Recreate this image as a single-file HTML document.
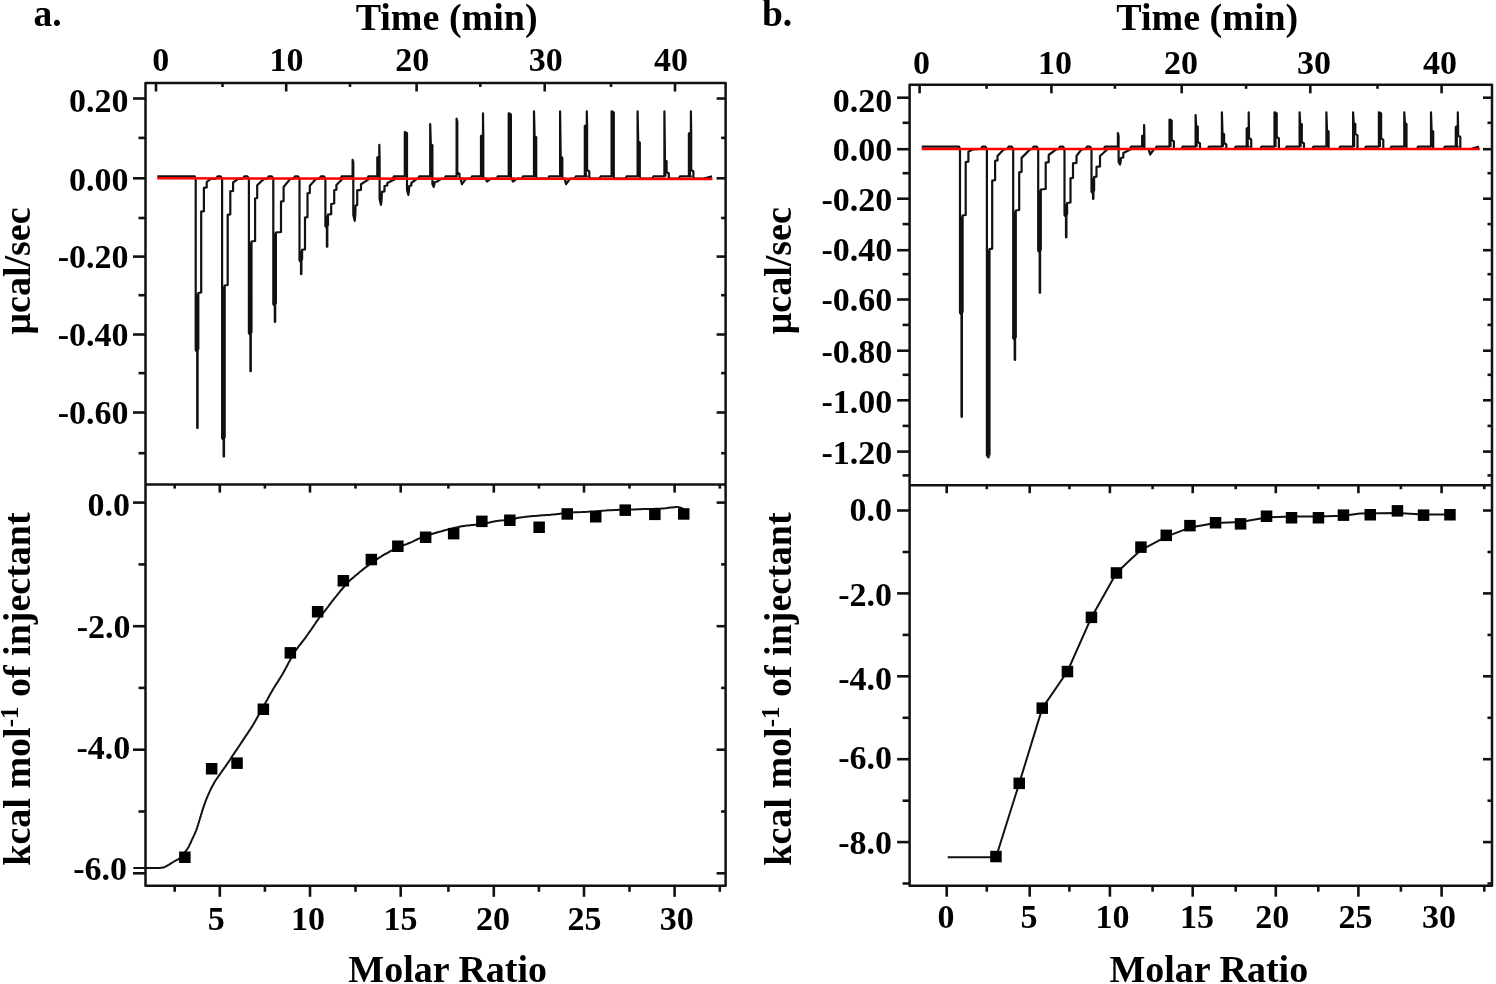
<!DOCTYPE html>
<html><head><meta charset="utf-8"><style>
html,body{margin:0;padding:0;background:#fff;}
svg{display:block;will-change:transform;}
text{font-family:"Liberation Serif",serif;font-weight:bold;fill:#000;}
</style></head><body>
<svg width="1496" height="984" viewBox="0 0 1496 984">
<rect width="1496" height="984" fill="#fff"/>
<path d="M145.5,83 H725.6 V885.8 H145.5 Z M145.5,484.6 H725.6" fill="none" stroke="#111" stroke-width="2.5" stroke-linejoin="round"/>
<line x1="133" y1="98.5" x2="145.5" y2="98.5" stroke="#111" stroke-width="2.6"/>
<line x1="725.6" y1="98.5" x2="716.6" y2="98.5" stroke="#111" stroke-width="2.6"/>
<line x1="133" y1="178.3" x2="145.5" y2="178.3" stroke="#111" stroke-width="2.6"/>
<line x1="725.6" y1="178.3" x2="716.6" y2="178.3" stroke="#111" stroke-width="2.6"/>
<line x1="133" y1="256.6" x2="145.5" y2="256.6" stroke="#111" stroke-width="2.6"/>
<line x1="725.6" y1="256.6" x2="716.6" y2="256.6" stroke="#111" stroke-width="2.6"/>
<line x1="133" y1="334.5" x2="145.5" y2="334.5" stroke="#111" stroke-width="2.6"/>
<line x1="725.6" y1="334.5" x2="716.6" y2="334.5" stroke="#111" stroke-width="2.6"/>
<line x1="133" y1="412.5" x2="145.5" y2="412.5" stroke="#111" stroke-width="2.6"/>
<line x1="725.6" y1="412.5" x2="716.6" y2="412.5" stroke="#111" stroke-width="2.6"/>
<line x1="138.5" y1="137.9" x2="145.5" y2="137.9" stroke="#111" stroke-width="2.6"/>
<line x1="725.6" y1="137.9" x2="721.1" y2="137.9" stroke="#111" stroke-width="2.6"/>
<line x1="138.5" y1="218" x2="145.5" y2="218" stroke="#111" stroke-width="2.6"/>
<line x1="725.6" y1="218" x2="721.1" y2="218" stroke="#111" stroke-width="2.6"/>
<line x1="138.5" y1="295.2" x2="145.5" y2="295.2" stroke="#111" stroke-width="2.6"/>
<line x1="725.6" y1="295.2" x2="721.1" y2="295.2" stroke="#111" stroke-width="2.6"/>
<line x1="138.5" y1="373.1" x2="145.5" y2="373.1" stroke="#111" stroke-width="2.6"/>
<line x1="725.6" y1="373.1" x2="721.1" y2="373.1" stroke="#111" stroke-width="2.6"/>
<line x1="138.5" y1="453.2" x2="145.5" y2="453.2" stroke="#111" stroke-width="2.6"/>
<line x1="725.6" y1="453.2" x2="721.1" y2="453.2" stroke="#111" stroke-width="2.6"/>
<line x1="156" y1="83" x2="156" y2="91.5" stroke="#111" stroke-width="2.6"/>
<line x1="286.2" y1="83" x2="286.2" y2="91.5" stroke="#111" stroke-width="2.6"/>
<line x1="416.6" y1="83" x2="416.6" y2="91.5" stroke="#111" stroke-width="2.6"/>
<line x1="544.7" y1="83" x2="544.7" y2="91.5" stroke="#111" stroke-width="2.6"/>
<line x1="675" y1="83" x2="675" y2="91.5" stroke="#111" stroke-width="2.6"/>
<line x1="222.5" y1="83" x2="222.5" y2="87" stroke="#111" stroke-width="2.6"/>
<line x1="350" y1="83" x2="350" y2="87" stroke="#111" stroke-width="2.6"/>
<line x1="480.3" y1="83" x2="480.3" y2="87" stroke="#111" stroke-width="2.6"/>
<line x1="611" y1="83" x2="611" y2="87" stroke="#111" stroke-width="2.6"/>
<line x1="133" y1="502.6" x2="145.5" y2="502.6" stroke="#111" stroke-width="2.6"/>
<line x1="725.6" y1="502.6" x2="716.6" y2="502.6" stroke="#111" stroke-width="2.6"/>
<line x1="133" y1="626.2" x2="145.5" y2="626.2" stroke="#111" stroke-width="2.6"/>
<line x1="725.6" y1="626.2" x2="716.6" y2="626.2" stroke="#111" stroke-width="2.6"/>
<line x1="133" y1="749.7" x2="145.5" y2="749.7" stroke="#111" stroke-width="2.6"/>
<line x1="725.6" y1="749.7" x2="716.6" y2="749.7" stroke="#111" stroke-width="2.6"/>
<line x1="133" y1="873.3" x2="145.5" y2="873.3" stroke="#111" stroke-width="2.6"/>
<line x1="725.6" y1="873.3" x2="716.6" y2="873.3" stroke="#111" stroke-width="2.6"/>
<line x1="138.5" y1="564.4" x2="145.5" y2="564.4" stroke="#111" stroke-width="2.6"/>
<line x1="725.6" y1="564.4" x2="721.1" y2="564.4" stroke="#111" stroke-width="2.6"/>
<line x1="138.5" y1="687.9" x2="145.5" y2="687.9" stroke="#111" stroke-width="2.6"/>
<line x1="725.6" y1="687.9" x2="721.1" y2="687.9" stroke="#111" stroke-width="2.6"/>
<line x1="138.5" y1="811.5" x2="145.5" y2="811.5" stroke="#111" stroke-width="2.6"/>
<line x1="725.6" y1="811.5" x2="721.1" y2="811.5" stroke="#111" stroke-width="2.6"/>
<line x1="219.8" y1="484.6" x2="219.8" y2="492.6" stroke="#111" stroke-width="2.6"/>
<line x1="310" y1="484.6" x2="310" y2="492.6" stroke="#111" stroke-width="2.6"/>
<line x1="400.7" y1="484.6" x2="400.7" y2="492.6" stroke="#111" stroke-width="2.6"/>
<line x1="493.8" y1="484.6" x2="493.8" y2="492.6" stroke="#111" stroke-width="2.6"/>
<line x1="584" y1="484.6" x2="584" y2="492.6" stroke="#111" stroke-width="2.6"/>
<line x1="674.6" y1="484.6" x2="674.6" y2="492.6" stroke="#111" stroke-width="2.6"/>
<line x1="174.7" y1="484.6" x2="174.7" y2="488.6" stroke="#111" stroke-width="2.6"/>
<line x1="264.9" y1="484.6" x2="264.9" y2="488.6" stroke="#111" stroke-width="2.6"/>
<line x1="355.5" y1="484.6" x2="355.5" y2="488.6" stroke="#111" stroke-width="2.6"/>
<line x1="448.4" y1="484.6" x2="448.4" y2="488.6" stroke="#111" stroke-width="2.6"/>
<line x1="538.9" y1="484.6" x2="538.9" y2="488.6" stroke="#111" stroke-width="2.6"/>
<line x1="629.5" y1="484.6" x2="629.5" y2="488.6" stroke="#111" stroke-width="2.6"/>
<line x1="719.8" y1="484.6" x2="719.8" y2="488.6" stroke="#111" stroke-width="2.6"/>
<line x1="219.8" y1="885.8" x2="219.8" y2="896.8" stroke="#111" stroke-width="2.6"/>
<line x1="310" y1="885.8" x2="310" y2="896.8" stroke="#111" stroke-width="2.6"/>
<line x1="400.7" y1="885.8" x2="400.7" y2="896.8" stroke="#111" stroke-width="2.6"/>
<line x1="493.8" y1="885.8" x2="493.8" y2="896.8" stroke="#111" stroke-width="2.6"/>
<line x1="584" y1="885.8" x2="584" y2="896.8" stroke="#111" stroke-width="2.6"/>
<line x1="674.6" y1="885.8" x2="674.6" y2="896.8" stroke="#111" stroke-width="2.6"/>
<line x1="174.7" y1="885.8" x2="174.7" y2="891.8" stroke="#111" stroke-width="2.6"/>
<line x1="264.9" y1="885.8" x2="264.9" y2="891.8" stroke="#111" stroke-width="2.6"/>
<line x1="355.5" y1="885.8" x2="355.5" y2="891.8" stroke="#111" stroke-width="2.6"/>
<line x1="448.4" y1="885.8" x2="448.4" y2="891.8" stroke="#111" stroke-width="2.6"/>
<line x1="538.9" y1="885.8" x2="538.9" y2="891.8" stroke="#111" stroke-width="2.6"/>
<line x1="629.5" y1="885.8" x2="629.5" y2="891.8" stroke="#111" stroke-width="2.6"/>
<line x1="719.8" y1="885.8" x2="719.8" y2="891.8" stroke="#111" stroke-width="2.6"/>
<path d="M909.6,84.8 H1492 V885.7 H909.6 Z M909.6,485.2 H1492" fill="none" stroke="#111" stroke-width="2.5" stroke-linejoin="round"/>
<line x1="897.1" y1="97.7" x2="909.6" y2="97.7" stroke="#111" stroke-width="2.6"/>
<line x1="1492" y1="97.7" x2="1483" y2="97.7" stroke="#111" stroke-width="2.6"/>
<line x1="897.1" y1="149.2" x2="909.6" y2="149.2" stroke="#111" stroke-width="2.6"/>
<line x1="1492" y1="149.2" x2="1483" y2="149.2" stroke="#111" stroke-width="2.6"/>
<line x1="897.1" y1="198.7" x2="909.6" y2="198.7" stroke="#111" stroke-width="2.6"/>
<line x1="1492" y1="198.7" x2="1483" y2="198.7" stroke="#111" stroke-width="2.6"/>
<line x1="897.1" y1="250.2" x2="909.6" y2="250.2" stroke="#111" stroke-width="2.6"/>
<line x1="1492" y1="250.2" x2="1483" y2="250.2" stroke="#111" stroke-width="2.6"/>
<line x1="897.1" y1="299.5" x2="909.6" y2="299.5" stroke="#111" stroke-width="2.6"/>
<line x1="1492" y1="299.5" x2="1483" y2="299.5" stroke="#111" stroke-width="2.6"/>
<line x1="897.1" y1="350.7" x2="909.6" y2="350.7" stroke="#111" stroke-width="2.6"/>
<line x1="1492" y1="350.7" x2="1483" y2="350.7" stroke="#111" stroke-width="2.6"/>
<line x1="897.1" y1="400.3" x2="909.6" y2="400.3" stroke="#111" stroke-width="2.6"/>
<line x1="1492" y1="400.3" x2="1483" y2="400.3" stroke="#111" stroke-width="2.6"/>
<line x1="897.1" y1="451.6" x2="909.6" y2="451.6" stroke="#111" stroke-width="2.6"/>
<line x1="1492" y1="451.6" x2="1483" y2="451.6" stroke="#111" stroke-width="2.6"/>
<line x1="902.6" y1="122.8" x2="909.6" y2="122.8" stroke="#111" stroke-width="2.6"/>
<line x1="1492" y1="122.8" x2="1487.5" y2="122.8" stroke="#111" stroke-width="2.6"/>
<line x1="902.6" y1="173.2" x2="909.6" y2="173.2" stroke="#111" stroke-width="2.6"/>
<line x1="1492" y1="173.2" x2="1487.5" y2="173.2" stroke="#111" stroke-width="2.6"/>
<line x1="902.6" y1="224.1" x2="909.6" y2="224.1" stroke="#111" stroke-width="2.6"/>
<line x1="1492" y1="224.1" x2="1487.5" y2="224.1" stroke="#111" stroke-width="2.6"/>
<line x1="902.6" y1="274.2" x2="909.6" y2="274.2" stroke="#111" stroke-width="2.6"/>
<line x1="1492" y1="274.2" x2="1487.5" y2="274.2" stroke="#111" stroke-width="2.6"/>
<line x1="902.6" y1="324.9" x2="909.6" y2="324.9" stroke="#111" stroke-width="2.6"/>
<line x1="1492" y1="324.9" x2="1487.5" y2="324.9" stroke="#111" stroke-width="2.6"/>
<line x1="902.6" y1="374.8" x2="909.6" y2="374.8" stroke="#111" stroke-width="2.6"/>
<line x1="1492" y1="374.8" x2="1487.5" y2="374.8" stroke="#111" stroke-width="2.6"/>
<line x1="902.6" y1="425.9" x2="909.6" y2="425.9" stroke="#111" stroke-width="2.6"/>
<line x1="1492" y1="425.9" x2="1487.5" y2="425.9" stroke="#111" stroke-width="2.6"/>
<line x1="902.6" y1="475.4" x2="909.6" y2="475.4" stroke="#111" stroke-width="2.6"/>
<line x1="1492" y1="475.4" x2="1487.5" y2="475.4" stroke="#111" stroke-width="2.6"/>
<line x1="919.6" y1="84.8" x2="919.6" y2="93.3" stroke="#111" stroke-width="2.6"/>
<line x1="1051.4" y1="84.8" x2="1051.4" y2="93.3" stroke="#111" stroke-width="2.6"/>
<line x1="1181.7" y1="84.8" x2="1181.7" y2="93.3" stroke="#111" stroke-width="2.6"/>
<line x1="1310.3" y1="84.8" x2="1310.3" y2="93.3" stroke="#111" stroke-width="2.6"/>
<line x1="1441.6" y1="84.8" x2="1441.6" y2="93.3" stroke="#111" stroke-width="2.6"/>
<line x1="986.6" y1="84.8" x2="986.6" y2="88.8" stroke="#111" stroke-width="2.6"/>
<line x1="1114.9" y1="84.8" x2="1114.9" y2="88.8" stroke="#111" stroke-width="2.6"/>
<line x1="1246.1" y1="84.8" x2="1246.1" y2="88.8" stroke="#111" stroke-width="2.6"/>
<line x1="1377.5" y1="84.8" x2="1377.5" y2="88.8" stroke="#111" stroke-width="2.6"/>
<line x1="897.1" y1="510.5" x2="909.6" y2="510.5" stroke="#111" stroke-width="2.6"/>
<line x1="1492" y1="510.5" x2="1483" y2="510.5" stroke="#111" stroke-width="2.6"/>
<line x1="897.1" y1="593.4" x2="909.6" y2="593.4" stroke="#111" stroke-width="2.6"/>
<line x1="1492" y1="593.4" x2="1483" y2="593.4" stroke="#111" stroke-width="2.6"/>
<line x1="897.1" y1="676.3" x2="909.6" y2="676.3" stroke="#111" stroke-width="2.6"/>
<line x1="1492" y1="676.3" x2="1483" y2="676.3" stroke="#111" stroke-width="2.6"/>
<line x1="897.1" y1="759.2" x2="909.6" y2="759.2" stroke="#111" stroke-width="2.6"/>
<line x1="1492" y1="759.2" x2="1483" y2="759.2" stroke="#111" stroke-width="2.6"/>
<line x1="897.1" y1="842.1" x2="909.6" y2="842.1" stroke="#111" stroke-width="2.6"/>
<line x1="1492" y1="842.1" x2="1483" y2="842.1" stroke="#111" stroke-width="2.6"/>
<line x1="902.6" y1="552" x2="909.6" y2="552" stroke="#111" stroke-width="2.6"/>
<line x1="1492" y1="552" x2="1487.5" y2="552" stroke="#111" stroke-width="2.6"/>
<line x1="902.6" y1="634.9" x2="909.6" y2="634.9" stroke="#111" stroke-width="2.6"/>
<line x1="1492" y1="634.9" x2="1487.5" y2="634.9" stroke="#111" stroke-width="2.6"/>
<line x1="902.6" y1="717.8" x2="909.6" y2="717.8" stroke="#111" stroke-width="2.6"/>
<line x1="1492" y1="717.8" x2="1487.5" y2="717.8" stroke="#111" stroke-width="2.6"/>
<line x1="902.6" y1="800.7" x2="909.6" y2="800.7" stroke="#111" stroke-width="2.6"/>
<line x1="1492" y1="800.7" x2="1487.5" y2="800.7" stroke="#111" stroke-width="2.6"/>
<line x1="902.6" y1="883.5" x2="909.6" y2="883.5" stroke="#111" stroke-width="2.6"/>
<line x1="1492" y1="883.5" x2="1487.5" y2="883.5" stroke="#111" stroke-width="2.6"/>
<line x1="946.7" y1="485.2" x2="946.7" y2="493.2" stroke="#111" stroke-width="2.6"/>
<line x1="1029.7" y1="485.2" x2="1029.7" y2="493.2" stroke="#111" stroke-width="2.6"/>
<line x1="1109.9" y1="485.2" x2="1109.9" y2="493.2" stroke="#111" stroke-width="2.6"/>
<line x1="1192.7" y1="485.2" x2="1192.7" y2="493.2" stroke="#111" stroke-width="2.6"/>
<line x1="1275.8" y1="485.2" x2="1275.8" y2="493.2" stroke="#111" stroke-width="2.6"/>
<line x1="1358.4" y1="485.2" x2="1358.4" y2="493.2" stroke="#111" stroke-width="2.6"/>
<line x1="1441.6" y1="485.2" x2="1441.6" y2="493.2" stroke="#111" stroke-width="2.6"/>
<line x1="986.8" y1="485.2" x2="986.8" y2="489.2" stroke="#111" stroke-width="2.6"/>
<line x1="1069.4" y1="485.2" x2="1069.4" y2="489.2" stroke="#111" stroke-width="2.6"/>
<line x1="1152.6" y1="485.2" x2="1152.6" y2="489.2" stroke="#111" stroke-width="2.6"/>
<line x1="1235.7" y1="485.2" x2="1235.7" y2="489.2" stroke="#111" stroke-width="2.6"/>
<line x1="1318.3" y1="485.2" x2="1318.3" y2="489.2" stroke="#111" stroke-width="2.6"/>
<line x1="1400.9" y1="485.2" x2="1400.9" y2="489.2" stroke="#111" stroke-width="2.6"/>
<line x1="1484.3" y1="485.2" x2="1484.3" y2="489.2" stroke="#111" stroke-width="2.6"/>
<line x1="946.7" y1="885.7" x2="946.7" y2="896.7" stroke="#111" stroke-width="2.6"/>
<line x1="1029.7" y1="885.7" x2="1029.7" y2="896.7" stroke="#111" stroke-width="2.6"/>
<line x1="1109.9" y1="885.7" x2="1109.9" y2="896.7" stroke="#111" stroke-width="2.6"/>
<line x1="1192.7" y1="885.7" x2="1192.7" y2="896.7" stroke="#111" stroke-width="2.6"/>
<line x1="1275.8" y1="885.7" x2="1275.8" y2="896.7" stroke="#111" stroke-width="2.6"/>
<line x1="1358.4" y1="885.7" x2="1358.4" y2="896.7" stroke="#111" stroke-width="2.6"/>
<line x1="1441.6" y1="885.7" x2="1441.6" y2="896.7" stroke="#111" stroke-width="2.6"/>
<line x1="986.8" y1="885.7" x2="986.8" y2="891.7" stroke="#111" stroke-width="2.6"/>
<line x1="1069.4" y1="885.7" x2="1069.4" y2="891.7" stroke="#111" stroke-width="2.6"/>
<line x1="1152.6" y1="885.7" x2="1152.6" y2="891.7" stroke="#111" stroke-width="2.6"/>
<line x1="1235.7" y1="885.7" x2="1235.7" y2="891.7" stroke="#111" stroke-width="2.6"/>
<line x1="1318.3" y1="885.7" x2="1318.3" y2="891.7" stroke="#111" stroke-width="2.6"/>
<line x1="1400.9" y1="885.7" x2="1400.9" y2="891.7" stroke="#111" stroke-width="2.6"/>
<line x1="1484.3" y1="885.7" x2="1484.3" y2="891.7" stroke="#111" stroke-width="2.6"/>
<polyline points="157.3,176.4 194.7,176.4 195.7,178.6 195.7,350 197.2,352 197.2,428 197.6,428 197.6,350 198.3,349 198.3,293 201.2,292.5 201.2,211.7 203.9,211.2 203.9,187.9 206.7,187.4 206.7,182 210.7,178.9 216.1,178.6 217.6,176.4 220.6,176.4 222.1,178.6 222.1,438 223.6,440 223.6,456.5 224,456.5 224,438 224.7,437 224.7,285.5 227.7,285 227.7,214.8 230.3,214.3 230.3,191.4 233.1,190.9 233.1,182.5 238.1,178.9 242.9,178.6 244.4,176.4 247.4,176.4 248.9,178.6 248.9,333 250.4,335 250.4,371.2 250.8,371.2 250.8,333 251.5,332 251.5,241.5 255.1,241 255.1,198.5 257.2,198 257.2,185.3 263.9,178.9 267.3,178.6 268.8,176.4 271.8,176.4 273.3,178.6 273.3,304 274.8,306 274.8,321.8 275.2,321.8 275.2,304 275.9,303 275.9,232.5 281,232 281,201.6 283.6,201.1 283.6,187 290.3,178.9 293.5,178.6 295,176.4 298,176.4 299.5,178.6 299.5,260.4 301,262.4 301,274.1 301.4,274.1 301.4,260.4 302.1,259.4 302.1,249.8 305,249.3 305,217.7 307.5,217.2 307.5,193.4 309.8,192.9 309.8,185.7 315.9,178.9 319.4,178.6 320.9,176.4 323.9,176.4 325.4,178.6 325.4,226.1 326.9,228.1 326.9,246.7 327.3,246.7 327.3,226.1 328,225.1 328,214.7 331.2,214.2 331.2,204 334.2,203.5 334.2,190.3 336.4,189.8 336.4,185 342.4,178.9 340.6,178.6 341.6,176.4 352.6,176.4 352.6,159.8 353.3,162.8 353.3,178.6 353.3,215 354.7,220.8 355.3,215 355.6,205.5 357.2,205 357.2,190.3 361,189.8 361,184.2 369.3,178.9 367.3,178.6 368.3,176.4 379.3,176.4 377.3,176.4 377.3,157.5 379.3,156.5 379.3,144.8 379.6,157.5 379.6,178.6 379.6,199.5 381,204.8 381.6,199.5 381.9,191.8 384.5,191.3 384.5,186 387.3,185.5 387.3,183 395.3,178.9 392.8,178.6 393.8,176.4 404.8,176.4 404.8,132.1 405.4,132.1 407,133.1 407,178.6 407,190 408.4,194.9 409,190 409.3,186 411.3,185.5 411.3,183 416.8,178.9 418.2,178.6 419.2,176.4 430.2,176.4 430.2,124.1 430.8,144.1 432.4,145.1 432.4,178.6 432.4,184 433.8,186.9 434.4,184 434.7,182 437.7,181.5 437.7,181 441.2,178.9 444.6,178.6 445.6,176.4 456.6,176.4 456.6,118.7 457.3,121.7 457.3,172.5 459.5,174 459.5,178.6 461.8,178.6 464.3,178.6 460.5,178.6 462,184.2 466,178.6 469.6,178.6 471,178.6 472,176.4 483,176.4 481,176.4 481,136.1 483,135.1 483,113.4 483.3,136.1 483.3,178.6 486.3,178.6 485.5,178.6 487,181.6 491,178.6 496,178.6 496.7,178.6 497.7,176.4 508.7,176.4 508.7,113.4 509.3,113.4 510.9,114.4 510.9,178.6 513.9,178.6 511.5,178.6 513,181.6 517,178.6 521.7,178.6 522,178.6 523,176.4 534,176.4 534,111.4 534.6,136.1 536.2,137.1 536.2,178.6 539.2,178.6 547,178.6 548.1,178.6 549.1,176.4 560.1,176.4 560.1,111.4 560.7,156.8 562.3,157.8 562.3,178.6 565.3,178.6 564.6,178.6 566.1,184.2 570.1,178.6 573.1,178.6 574.8,178.6 575.8,176.4 586.8,176.4 584.8,176.4 584.8,126.1 586.8,125.1 586.8,111.4 587.1,126.1 587.1,170 589.3,171.5 589.3,178.6 591.6,178.6 594.1,178.6 599.8,178.6 599.6,178.6 600.6,176.4 611.6,176.4 611.6,111.4 612.2,111.4 613.8,112.4 613.8,178.6 616.8,178.6 624.6,178.6 625.6,178.6 626.6,176.4 637.6,176.4 637.6,111.4 638.2,141.4 639.8,142.4 639.8,178.6 642.8,178.6 650.6,178.6 652.4,178.6 653.4,176.4 664.4,176.4 664.4,111.4 665,160.2 666.6,161.2 666.6,172 668.8,173.5 668.8,178.6 671.1,178.6 673.6,178.6 677.4,178.6 678.9,178.6 679.9,176.4 690.9,176.4 688.9,176.4 688.9,133.4 690.9,132.4 690.9,111.4 691.2,133.4 691.2,170 693.4,171.5 693.4,178.6 695.7,178.6 698.2,178.6 703.9,178.6 712,176.4" fill="none" stroke="#111" stroke-width="2.2" stroke-linejoin="round"/>
<line x1="197" y1="294" x2="197" y2="349" stroke="#111" stroke-width="2.0"/>
<line x1="223.4" y1="286.5" x2="223.4" y2="437" stroke="#111" stroke-width="2.0"/>
<line x1="250.2" y1="242.5" x2="250.2" y2="332" stroke="#111" stroke-width="2.0"/>
<line x1="274.6" y1="233.5" x2="274.6" y2="303" stroke="#111" stroke-width="2.0"/>
<line x1="300.8" y1="250.8" x2="300.8" y2="259.4" stroke="#111" stroke-width="2.0"/>
<line x1="326.7" y1="215.7" x2="326.7" y2="225.1" stroke="#111" stroke-width="2.0"/>
<line x1="378.4" y1="158.5" x2="378.4" y2="176.6" stroke="#111" stroke-width="2.0"/>
<line x1="405.9" y1="133.1" x2="405.9" y2="176.6" stroke="#111" stroke-width="2.0"/>
<line x1="431.3" y1="145.1" x2="431.3" y2="176.6" stroke="#111" stroke-width="2.0"/>
<line x1="482.1" y1="137.1" x2="482.1" y2="176.6" stroke="#111" stroke-width="2.0"/>
<line x1="509.8" y1="114.4" x2="509.8" y2="176.6" stroke="#111" stroke-width="2.0"/>
<line x1="535.1" y1="137.1" x2="535.1" y2="176.6" stroke="#111" stroke-width="2.0"/>
<line x1="561.2" y1="157.8" x2="561.2" y2="176.6" stroke="#111" stroke-width="2.0"/>
<line x1="585.9" y1="127.1" x2="585.9" y2="176.6" stroke="#111" stroke-width="2.0"/>
<line x1="612.7" y1="112.4" x2="612.7" y2="176.6" stroke="#111" stroke-width="2.0"/>
<line x1="638.7" y1="142.4" x2="638.7" y2="176.6" stroke="#111" stroke-width="2.0"/>
<line x1="665.5" y1="161.2" x2="665.5" y2="176.6" stroke="#111" stroke-width="2.0"/>
<line x1="690" y1="134.4" x2="690" y2="176.6" stroke="#111" stroke-width="2.0"/>
<line x1="157.3" y1="178.3" x2="712.5" y2="178.9" stroke="#f00" stroke-width="2.5"/>
<polyline points="921.7,146.6 959,146.6 960,149 960,312.8 961.5,314.8 961.5,416.8 961.9,416.8 961.9,312.8 962.6,311.8 962.6,215.5 965.7,215 965.7,162.1 968.4,161.6 968.4,151.8 973,149.3 980.9,149 982.4,146.6 985.4,146.6 986.9,149 986.9,455.4 988.4,457.4 988.4,457.1 988.8,457.1 988.8,455.4 989.5,454.4 989.5,249.1 992.2,248.6 992.2,180.7 995.1,180.2 995.1,160.9 997.5,160.4 997.5,156 1003.9,149.3 1007.2,149 1008.7,146.6 1011.7,146.6 1013.2,149 1013.2,338 1014.7,340 1014.7,359.8 1015.1,359.8 1015.1,338 1015.8,337 1015.8,210.5 1019.2,210 1019.2,172.3 1021.6,171.8 1021.6,157.9 1030.2,149.3 1032.2,149 1033.7,146.6 1036.7,146.6 1038.2,149 1038.2,250.7 1039.7,252.7 1039.7,292.7 1040.1,292.7 1040.1,250.7 1040.8,249.7 1040.8,189.5 1045.7,189 1045.7,162.7 1048.7,162.2 1048.7,155 1056.2,149.3 1058.5,149 1060,146.6 1063,146.6 1064.5,149 1064.5,215 1066,217 1066,237.3 1066.4,237.3 1066.4,215 1067.1,214 1067.1,203 1070.5,202.5 1070.5,178.3 1073,177.8 1073,163.3 1076.5,162.8 1076.5,156 1081.5,149.3 1085.5,149 1087,146.6 1090,146.6 1091.5,149 1091.5,191.6 1093,193.6 1093,198.8 1093.4,198.8 1093.4,191.6 1094.1,190.6 1094.1,177.1 1096.5,176.6 1096.5,166.9 1100,166.4 1100,156 1107.5,149.3 1103.9,149 1104.9,146.6 1117.9,146.6 1117.9,133.1 1118.6,136.1 1118.6,149 1118.6,162 1120,164.5 1120.6,162 1120.9,158 1123.3,157.5 1123.3,153 1130.9,149.3 1130.1,149 1131.1,146.6 1144.1,146.6 1142.1,146.6 1142.1,136 1144.1,135 1144.1,125.1 1144.4,136 1144.4,149 1147.4,149 1148.6,149 1150.1,154.5 1154.1,149 1157.1,149 1155.5,149 1156.5,146.6 1169.5,146.6 1169.5,119.7 1170.1,119.7 1171.7,120.7 1171.7,140 1173.9,141.5 1173.9,149 1176.2,149 1178.7,149 1182.5,149 1181.6,149 1182.6,146.6 1195.6,146.6 1195.6,115 1196.2,125.7 1197.8,126.7 1197.8,142 1200,143.5 1200,149 1202.3,149 1204.8,149 1208.6,149 1207.9,149 1208.9,146.6 1221.9,146.6 1221.9,112.4 1222.5,133.1 1224.1,134.1 1224.1,143 1226.3,144.5 1226.3,149 1228.6,149 1231.1,149 1234.9,149 1234.7,149 1235.7,146.6 1248.7,146.6 1246.7,146.6 1246.7,128.4 1248.7,127.4 1248.7,112.4 1249,128.4 1249,138 1251.2,139.5 1251.2,149 1253.5,149 1256,149 1261.7,149 1260.5,149 1261.5,146.6 1274.5,146.6 1274.5,112.4 1275.1,112.4 1276.7,113.4 1276.7,137 1278.9,138.5 1278.9,149 1281.2,149 1283.7,149 1287.5,149 1285.6,149 1286.6,146.6 1299.6,146.6 1299.6,112.4 1300.2,123.1 1301.8,124.1 1301.8,142 1304,143.5 1304,149 1306.3,149 1308.8,149 1312.6,149 1312.4,149 1313.4,146.6 1326.4,146.6 1326.4,112.4 1327,130.4 1328.6,131.4 1328.6,149 1331.6,149 1339.4,149 1339.1,149 1340.1,146.6 1353.1,146.6 1353.1,112.4 1353.7,123 1355.3,124 1355.3,133.8 1357.5,135.3 1357.5,149 1359.8,149 1362.3,149 1366.1,149 1364.9,149 1365.9,146.6 1378.9,146.6 1378.9,112.4 1379.5,112.4 1381.1,113.4 1381.1,138.4 1383.3,139.9 1383.3,149 1385.6,149 1388.1,149 1391.9,149 1390.3,149 1391.3,146.6 1404.3,146.6 1404.3,112.4 1404.9,123 1406.5,124 1406.5,149 1409.5,149 1417.3,149 1417,149 1418,146.6 1431,146.6 1431,112.4 1431.6,130.4 1433.2,131.4 1433.2,149 1436.2,149 1444,149 1443.8,149 1444.8,146.6 1457.8,146.6 1455.8,146.6 1455.8,127 1457.8,126 1457.8,112.4 1458.1,127 1458.1,135.5 1460.3,137 1460.3,149 1462.6,149 1465.1,149 1470.8,149 1479,146.6" fill="none" stroke="#111" stroke-width="2.2" stroke-linejoin="round"/>
<line x1="961.3" y1="216.5" x2="961.3" y2="311.8" stroke="#111" stroke-width="2.0"/>
<line x1="988.2" y1="250.1" x2="988.2" y2="454.4" stroke="#111" stroke-width="2.0"/>
<line x1="1014.5" y1="211.5" x2="1014.5" y2="337" stroke="#111" stroke-width="2.0"/>
<line x1="1039.5" y1="190.5" x2="1039.5" y2="249.7" stroke="#111" stroke-width="2.0"/>
<line x1="1065.8" y1="204" x2="1065.8" y2="214" stroke="#111" stroke-width="2.0"/>
<line x1="1092.8" y1="178.1" x2="1092.8" y2="190.6" stroke="#111" stroke-width="2.0"/>
<line x1="1143.2" y1="137" x2="1143.2" y2="147" stroke="#111" stroke-width="2.0"/>
<line x1="1170.6" y1="120.7" x2="1170.6" y2="147" stroke="#111" stroke-width="2.0"/>
<line x1="1196.7" y1="126.7" x2="1196.7" y2="147" stroke="#111" stroke-width="2.0"/>
<line x1="1223" y1="134.1" x2="1223" y2="147" stroke="#111" stroke-width="2.0"/>
<line x1="1247.8" y1="129.4" x2="1247.8" y2="147" stroke="#111" stroke-width="2.0"/>
<line x1="1275.6" y1="113.4" x2="1275.6" y2="147" stroke="#111" stroke-width="2.0"/>
<line x1="1300.7" y1="124.1" x2="1300.7" y2="147" stroke="#111" stroke-width="2.0"/>
<line x1="1327.5" y1="131.4" x2="1327.5" y2="147" stroke="#111" stroke-width="2.0"/>
<line x1="1354.2" y1="124" x2="1354.2" y2="147" stroke="#111" stroke-width="2.0"/>
<line x1="1380" y1="113.4" x2="1380" y2="147" stroke="#111" stroke-width="2.0"/>
<line x1="1405.4" y1="124" x2="1405.4" y2="147" stroke="#111" stroke-width="2.0"/>
<line x1="1432.1" y1="131.4" x2="1432.1" y2="147" stroke="#111" stroke-width="2.0"/>
<line x1="1456.9" y1="128" x2="1456.9" y2="147" stroke="#111" stroke-width="2.0"/>
<line x1="921.7" y1="149.1" x2="1479.8" y2="148.9" stroke="#f00" stroke-width="2.5"/>
<polyline points="133.3,867.9 134.6,867.9 136.4,867.9 138.5,867.9 140.9,868 143.3,868 145.8,868 148,868 150,868 151.8,868 153.5,868 155.1,868 156.7,868 158.1,868 159.5,867.9 160.8,867.8 162,867.7 163,867.5 163.9,867.3 164.7,867 165.4,866.7 166,866.3 166.6,866 167.3,865.6 168,865.2 168.8,864.8 169.5,864.4 170.2,863.9 171,863.4 171.8,862.9 172.5,862.5 173.2,862 174,861.5 174.7,861.1 175.5,860.7 176.2,860.3 176.9,860 177.6,859.6 178.4,859.1 179.2,858.5 180,857.8 180.9,856.9 181.8,855.9 182.8,854.8 183.8,853.7 184.8,852.4 185.7,851.2 186.6,850 187.4,848.8 188.1,847.7 188.8,846.5 189.4,845.4 189.9,844.2 190.5,843 191,841.8 191.5,840.6 192.1,839.4 192.7,838.1 193.3,836.9 193.9,835.6 194.5,834.3 195.1,832.9 195.6,831.6 196.2,830.3 196.7,828.9 197.2,827.5 197.6,826.1 198.1,824.8 198.5,823.3 198.9,821.9 199.3,820.5 199.8,819.1 200.2,817.6 200.7,816.1 201.1,814.6 201.6,813.1 202,811.6 202.5,810.1 203,808.6 203.5,807.1 204,805.6 204.5,804.1 205.1,802.7 205.6,801.2 206.2,799.7 206.7,798.3 207.3,796.8 208,795.4 208.6,793.9 209.3,792.4 210,790.9 210.7,789.4 211.5,787.8 212.3,786.3 213,784.9 213.8,783.5 214.5,782.2 215.2,781 215.9,780 216.5,779 217.2,778.1 217.8,777.2 218.5,776.2 219.3,775.2 220.1,774 221,772.7 222,771.2 223.1,769.7 224.2,768.1 225.3,766.6 226.4,765 227.4,763.6 228.3,762.3 229.1,761.2 229.7,760.2 230.3,759.3 230.8,758.4 231.4,757.6 232,756.6 232.7,755.5 233.5,754.3 234.5,752.9 235.5,751.3 236.7,749.6 237.9,747.8 239.1,746 240.3,744.2 241.5,742.4 242.7,740.6 243.9,738.9 245,737.1 246.2,735.3 247.4,733.6 248.6,731.8 249.7,730.1 250.8,728.5 251.8,726.9 252.7,725.4 253.5,724.1 254.3,722.8 255,721.5 255.7,720.3 256.4,719 257.2,717.6 258,716.2 258.9,714.7 259.8,713 260.7,711.4 261.7,709.7 262.6,708 263.6,706.2 264.5,704.5 265.5,702.8 266.4,701.1 267.4,699.4 268.3,697.7 269.2,696 270.2,694.2 271.2,692.5 272.2,690.8 273.2,689 274.3,687.2 275.4,685.4 276.6,683.6 277.8,681.8 278.9,679.9 280.1,678.1 281.2,676.3 282.3,674.5 283.3,672.7 284.3,670.9 285.3,669.1 286.3,667.2 287.2,665.5 288.1,663.7 289,662.1 289.9,660.5 290.7,659 291.5,657.6 292.2,656.3 292.9,655.1 293.7,653.8 294.4,652.6 295.2,651.3 296.1,650 297.1,648.6 298.1,647.2 299.2,645.7 300.4,644.3 301.5,642.8 302.6,641.4 303.6,640.1 304.6,638.8 305.5,637.6 306.3,636.5 307,635.5 307.7,634.5 308.4,633.5 309.1,632.4 309.9,631.4 310.7,630.2 311.6,629 312.5,627.6 313.4,626.2 314.3,624.9 315.3,623.5 316.2,622.1 317.1,620.8 318,619.6 318.8,618.5 319.6,617.5 320.3,616.5 321,615.6 321.8,614.7 322.5,613.8 323.3,612.8 324.1,611.8 325,610.7 325.8,609.6 326.7,608.4 327.7,607.2 328.6,606 329.5,604.7 330.5,603.5 331.5,602.2 332.5,600.9 333.5,599.6 334.6,598.2 335.7,596.9 336.8,595.5 337.8,594.1 338.9,592.8 340,591.5 341,590.2 342.1,589 343.1,587.8 344.1,586.6 345.1,585.4 346.2,584.2 347.3,583 348.5,581.8 349.8,580.6 351.1,579.3 352.6,578.1 354,576.9 355.4,575.6 356.9,574.5 358.2,573.4 359.5,572.3 360.7,571.3 361.8,570.4 362.8,569.6 363.8,568.8 364.8,568 365.8,567.2 366.9,566.4 368,565.6 369.2,564.7 370.4,563.8 371.6,562.9 372.8,562 374.1,561.2 375.3,560.3 376.6,559.4 377.8,558.6 379,557.8 380.2,557.1 381.4,556.4 382.6,555.6 383.7,554.9 385,554.2 386.3,553.5 387.6,552.8 389,552 390.5,551.2 392.1,550.4 393.7,549.6 395.3,548.8 396.8,548.1 398.4,547.4 399.8,546.7 401.2,546.1 402.5,545.6 403.7,545.1 404.9,544.7 406.2,544.3 407.4,543.8 408.7,543.3 410,542.8 411.4,542.2 412.7,541.6 414.1,540.9 415.5,540.2 416.9,539.5 418.3,538.8 419.8,538.1 421.4,537.5 423,536.9 424.7,536.3 426.5,535.7 428.3,535.1 430.1,534.6 431.9,534 433.6,533.5 435.3,533 436.9,532.5 438.5,532 440.1,531.6 441.6,531.2 443.2,530.7 444.8,530.3 446.4,529.9 448,529.5 449.7,529.1 451.4,528.6 453.2,528.2 455,527.8 456.8,527.4 458.5,527 460.3,526.6 462,526.3 463.7,526 465.4,525.8 467.1,525.6 468.7,525.5 470.3,525.3 471.9,525.1 473.5,525 475,524.8 476.4,524.6 477.8,524.4 479.1,524.2 480.4,524 481.7,523.8 482.9,523.6 484.3,523.4 485.6,523.2 487,522.9 488.4,522.7 489.7,522.4 491.2,522.1 492.6,521.8 494,521.5 495.5,521.2 497,521 498.6,520.8 500.2,520.6 501.8,520.4 503.5,520.3 505.1,520.1 506.8,519.9 508.4,519.7 510,519.5 511.5,519.2 512.9,519 514.3,518.7 515.7,518.4 517.1,518.1 518.6,517.8 520.2,517.5 522,517.2 524,517 526.1,516.7 528.4,516.5 530.8,516.3 533.1,516.1 535.5,515.9 537.8,515.7 540,515.5 542.1,515.3 544.3,515.2 546.4,515 548.4,514.9 550.4,514.8 552.4,514.6 554.2,514.5 556,514.3 557.5,514.1 558.9,513.9 560,513.7 561.1,513.5 562.3,513.4 563.7,513.2 565.2,513 567.2,512.8 569.5,512.6 572.2,512.5 575.1,512.3 578.1,512.2 581.3,512.1 584.5,511.9 587.6,511.8 590.6,511.6 593.5,511.4 596.5,511.2 599.4,511 602.3,510.8 605.2,510.6 608.1,510.3 611.1,510.2 614,510 616.9,509.9 619.9,509.8 622.8,509.7 625.7,509.6 628.6,509.5 631.5,509.5 634.5,509.4 637.4,509.3 640.4,509.2 643.5,509.1 646.6,509.1 649.7,509 652.7,508.9 655.6,508.8 658.3,508.7 660.8,508.6 663.1,508.4 665.2,508.3 667.1,508.1 668.9,507.8 670.6,507.6 672.1,507.4 673.5,507.3 674.8,507.2 675.9,507.1 676.7,507.1 677.4,507.1 678,507.1 678.5,507.2 679,507.3 679.5,507.4 680,507.5 680.6,507.7 681.2,507.9 681.8,508.2 682.4,508.5 683,508.8 683.5,509.1 683.9,509.3 684.2,509.5" fill="none" stroke="#111" stroke-width="2.0" stroke-linejoin="round"/>
<rect x="179.1" y="851.5" width="11.5" height="11.5" fill="#000"/>
<rect x="205.9" y="763" width="11.5" height="11.5" fill="#000"/>
<rect x="231.3" y="757.4" width="11.5" height="11.5" fill="#000"/>
<rect x="257.6" y="703.5" width="11.5" height="11.5" fill="#000"/>
<rect x="284.6" y="647.1" width="11.5" height="11.5" fill="#000"/>
<rect x="311.9" y="606" width="11.5" height="11.5" fill="#000"/>
<rect x="337.6" y="575" width="11.5" height="11.5" fill="#000"/>
<rect x="365.6" y="553.8" width="11.5" height="11.5" fill="#000"/>
<rect x="392.1" y="540.5" width="11.5" height="11.5" fill="#000"/>
<rect x="419.9" y="531.5" width="11.5" height="11.5" fill="#000"/>
<rect x="447.9" y="527.9" width="11.5" height="11.5" fill="#000"/>
<rect x="476.1" y="515.6" width="11.5" height="11.5" fill="#000"/>
<rect x="504.1" y="514.5" width="11.5" height="11.5" fill="#000"/>
<rect x="533.4" y="521.5" width="11.5" height="11.5" fill="#000"/>
<rect x="561.5" y="508.2" width="11.5" height="11.5" fill="#000"/>
<rect x="590" y="511" width="11.5" height="11.5" fill="#000"/>
<rect x="619.5" y="504.4" width="11.5" height="11.5" fill="#000"/>
<rect x="649.1" y="508.6" width="11.5" height="11.5" fill="#000"/>
<rect x="678" y="508.2" width="11.5" height="11.5" fill="#000"/>
<polyline points="947.7,857.3 996,857.3 1019.2,783.4 1042.3,708.1 1067.4,671.5 1091.4,617.4 1116.4,573 1130,560 1141,550.1 1166.2,536.6 1190,527.6 1215.6,523.1 1240.6,521.9 1266.5,517.5 1291.5,516.5 1318.4,516.5 1343.4,515.8 1360,513.4 1397.4,512.9 1423.6,514.6 1450,514.6" fill="none" stroke="#111" stroke-width="2.0" stroke-linejoin="round"/>
<rect x="990.2" y="850.8" width="11.5" height="11.5" fill="#000"/>
<rect x="1013.5" y="777.6" width="11.5" height="11.5" fill="#000"/>
<rect x="1036.5" y="702.4" width="11.5" height="11.5" fill="#000"/>
<rect x="1061.7" y="665.8" width="11.5" height="11.5" fill="#000"/>
<rect x="1085.7" y="611.6" width="11.5" height="11.5" fill="#000"/>
<rect x="1110.7" y="567.2" width="11.5" height="11.5" fill="#000"/>
<rect x="1135.2" y="541.4" width="11.5" height="11.5" fill="#000"/>
<rect x="1160.5" y="529.6" width="11.5" height="11.5" fill="#000"/>
<rect x="1184.2" y="519.9" width="11.5" height="11.5" fill="#000"/>
<rect x="1209.8" y="517" width="11.5" height="11.5" fill="#000"/>
<rect x="1234.8" y="518.1" width="11.5" height="11.5" fill="#000"/>
<rect x="1260.8" y="510.5" width="11.5" height="11.5" fill="#000"/>
<rect x="1285.8" y="512" width="11.5" height="11.5" fill="#000"/>
<rect x="1312.7" y="512" width="11.5" height="11.5" fill="#000"/>
<rect x="1337.7" y="509.4" width="11.5" height="11.5" fill="#000"/>
<rect x="1364.5" y="509" width="11.5" height="11.5" fill="#000"/>
<rect x="1391.7" y="505.1" width="11.5" height="11.5" fill="#000"/>
<rect x="1417.8" y="509.4" width="11.5" height="11.5" fill="#000"/>
<rect x="1444.2" y="509" width="11.5" height="11.5" fill="#000"/>
<text transform="translate(160.8,71.2) scale(1,1.02)" font-size="34" text-anchor="middle">0</text>
<text transform="translate(286.4,71.2) scale(1,1.02)" font-size="34" text-anchor="middle">10</text>
<text transform="translate(412.3,71.2) scale(1,1.02)" font-size="34" text-anchor="middle">20</text>
<text transform="translate(545.8,71.2) scale(1,1.02)" font-size="34" text-anchor="middle">30</text>
<text transform="translate(671.1,71.2) scale(1,1.02)" font-size="34" text-anchor="middle">40</text>
<text transform="translate(128.5,112.2) scale(1,1.02)" font-size="34" text-anchor="end">0.20</text>
<text transform="translate(128.5,190.6) scale(1,1.02)" font-size="34" text-anchor="end">0.00</text>
<text transform="translate(128.5,267.5) scale(1,1.02)" font-size="34" text-anchor="end">-0.20</text>
<text transform="translate(128.5,345.6) scale(1,1.02)" font-size="34" text-anchor="end">-0.40</text>
<text transform="translate(128.5,423.9) scale(1,1.02)" font-size="34" text-anchor="end">-0.60</text>
<text transform="translate(130,515.7) scale(1,1.02)" font-size="34" text-anchor="end">0.0</text>
<text transform="translate(130.6,637.7) scale(1,1.02)" font-size="34" text-anchor="end">-2.0</text>
<text transform="translate(130.3,758.7) scale(1,1.02)" font-size="34" text-anchor="end">-4.0</text>
<text transform="translate(127.1,879.8) scale(1,1.02)" font-size="34" text-anchor="end">-6.0</text>
<text transform="translate(216.2,930.1) scale(1,1.02)" font-size="34" text-anchor="middle">5</text>
<text transform="translate(308,930.1) scale(1,1.02)" font-size="34" text-anchor="middle">10</text>
<text transform="translate(400.6,930.1) scale(1,1.02)" font-size="34" text-anchor="middle">15</text>
<text transform="translate(493,930.1) scale(1,1.02)" font-size="34" text-anchor="middle">20</text>
<text transform="translate(584.6,930.1) scale(1,1.02)" font-size="34" text-anchor="middle">25</text>
<text transform="translate(676.8,930.1) scale(1,1.02)" font-size="34" text-anchor="middle">30</text>
<text transform="translate(921.4,73.6) scale(1,1.02)" font-size="34" text-anchor="middle">0</text>
<text transform="translate(1054.9,73.6) scale(1,1.02)" font-size="34" text-anchor="middle">10</text>
<text transform="translate(1181.1,73.6) scale(1,1.02)" font-size="34" text-anchor="middle">20</text>
<text transform="translate(1314.1,73.6) scale(1,1.02)" font-size="34" text-anchor="middle">30</text>
<text transform="translate(1439.9,73.6) scale(1,1.02)" font-size="34" text-anchor="middle">40</text>
<text transform="translate(892.2,111.5) scale(1,1.02)" font-size="34" text-anchor="end">0.20</text>
<text transform="translate(892.2,160.8) scale(1,1.02)" font-size="34" text-anchor="end">0.00</text>
<text transform="translate(892.2,210.7) scale(1,1.02)" font-size="34" text-anchor="end">-0.20</text>
<text transform="translate(892.2,260.6) scale(1,1.02)" font-size="34" text-anchor="end">-0.40</text>
<text transform="translate(892.2,310.7) scale(1,1.02)" font-size="34" text-anchor="end">-0.60</text>
<text transform="translate(892.2,363) scale(1,1.02)" font-size="34" text-anchor="end">-0.80</text>
<text transform="translate(892.2,413.2) scale(1,1.02)" font-size="34" text-anchor="end">-1.00</text>
<text transform="translate(892.2,463.7) scale(1,1.02)" font-size="34" text-anchor="end">-1.20</text>
<text transform="translate(892,520.5) scale(1,1.02)" font-size="34" text-anchor="end">0.0</text>
<text transform="translate(892,605.8) scale(1,1.02)" font-size="34" text-anchor="end">-2.0</text>
<text transform="translate(892,690.1) scale(1,1.02)" font-size="34" text-anchor="end">-4.0</text>
<text transform="translate(892,768.5) scale(1,1.02)" font-size="34" text-anchor="end">-6.0</text>
<text transform="translate(892,854) scale(1,1.02)" font-size="34" text-anchor="end">-8.0</text>
<text transform="translate(945.9,927.8) scale(1,1.02)" font-size="34" text-anchor="middle">0</text>
<text transform="translate(1029,927.8) scale(1,1.02)" font-size="34" text-anchor="middle">5</text>
<text transform="translate(1112.4,927.8) scale(1,1.02)" font-size="34" text-anchor="middle">10</text>
<text transform="translate(1196.9,927.8) scale(1,1.02)" font-size="34" text-anchor="middle">15</text>
<text transform="translate(1272.3,927.8) scale(1,1.02)" font-size="34" text-anchor="middle">20</text>
<text transform="translate(1355.6,927.8) scale(1,1.02)" font-size="34" text-anchor="middle">25</text>
<text transform="translate(1439,927.8) scale(1,1.02)" font-size="34" text-anchor="middle">30</text>
<text x="446.6" y="29.8" font-size="38" text-anchor="middle">Time (min)</text>
<text x="1207.3" y="29.8" font-size="38" text-anchor="middle">Time (min)</text>
<text x="447.7" y="982" font-size="38" text-anchor="middle">Molar Ratio</text>
<text x="1208.8" y="982" font-size="38" text-anchor="middle">Molar Ratio</text>
<text x="47.5" y="26" font-size="37.5" text-anchor="middle">a.</text>
<text x="777" y="26" font-size="37.5" text-anchor="middle">b.</text>
<text transform="translate(30.3,271) rotate(-90)" font-size="38" text-anchor="middle">&#956;cal/sec</text>
<text transform="translate(790.6,270.7) rotate(-90)" font-size="38" text-anchor="middle">&#956;cal/sec</text>
<text transform="translate(29.9,689) rotate(-90)" font-size="38" text-anchor="middle">kcal mol<tspan font-size="25" dy="-11.5">-1</tspan><tspan dy="11.5"> of injectant</tspan></text>
<text transform="translate(790.6,689) rotate(-90)" font-size="38" text-anchor="middle">kcal mol<tspan font-size="25" dy="-11.5">-1</tspan><tspan dy="11.5"> of injectant</tspan></text>
</svg>
</body></html>
